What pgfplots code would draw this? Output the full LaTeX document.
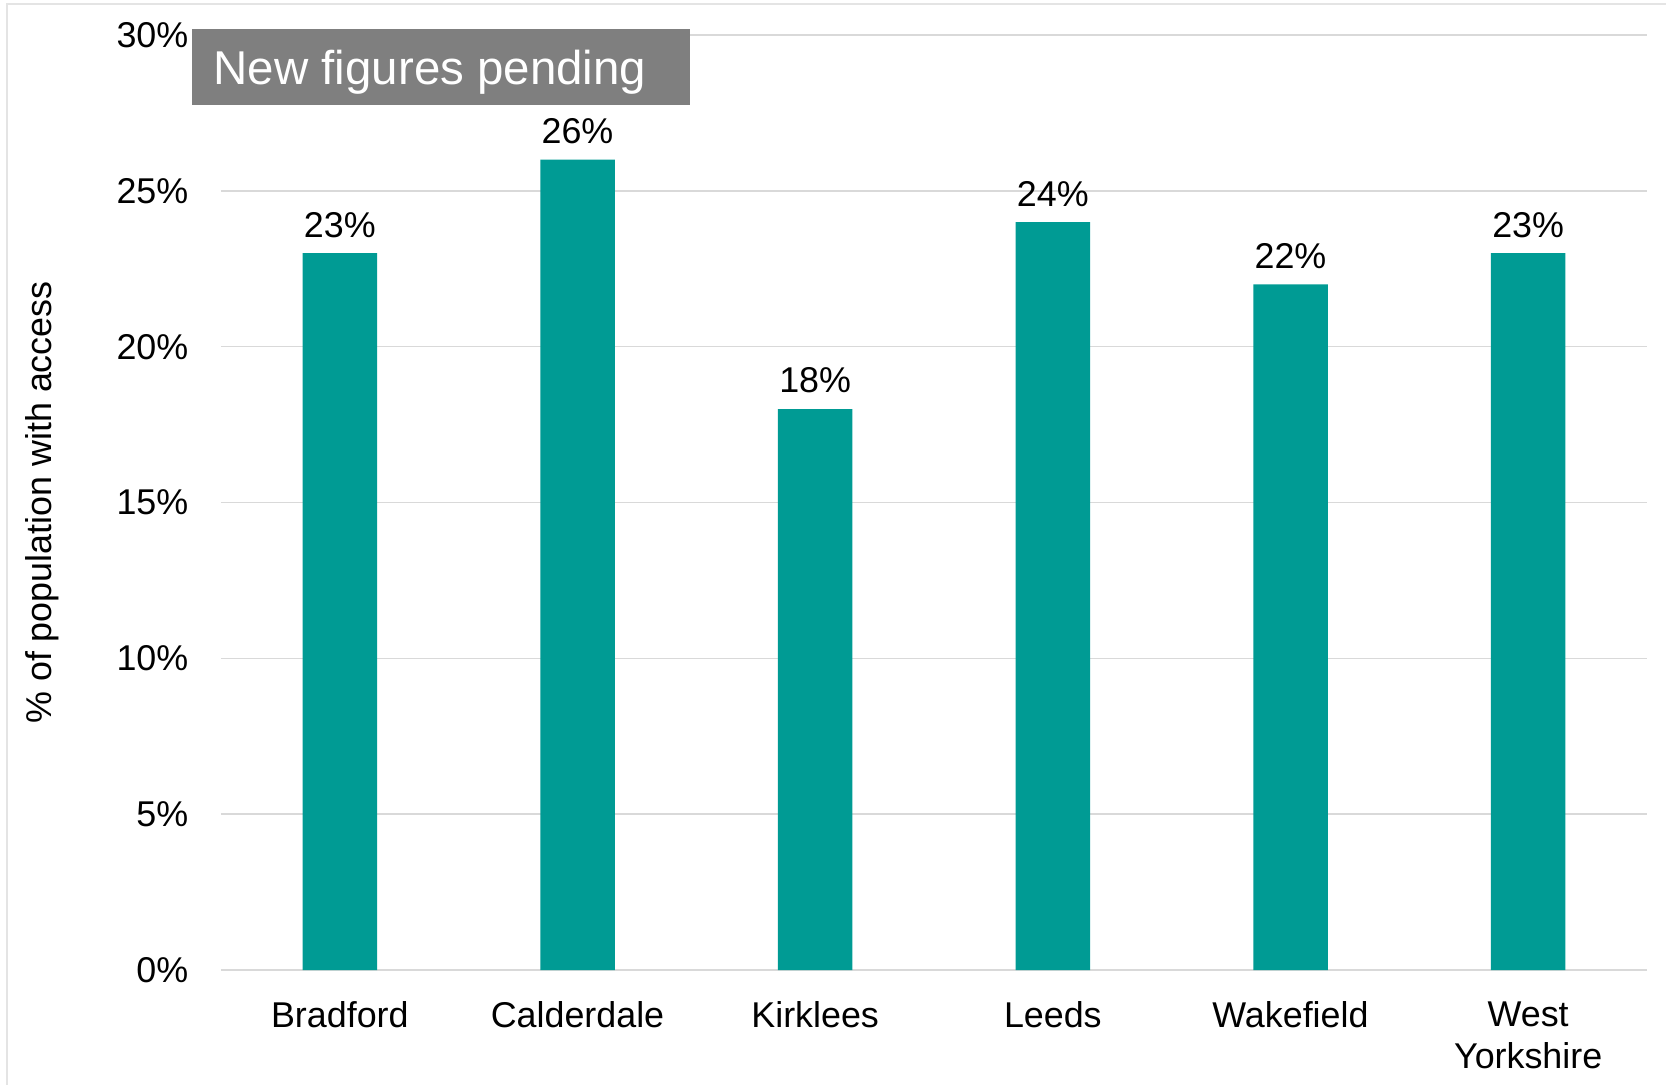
\documentclass[border=0pt]{standalone}
\usepackage{pgfplots}
\pgfplotsset{compat=1.18}
\usepackage{fontspec}
\setmainfont{Liberation Sans}
\definecolor{barteal}{RGB}{0,155,148}
\definecolor{gridgray}{RGB}{217,217,217}
\definecolor{boxgray}{RGB}{127,127,127}
\begin{document}
\begin{tikzpicture}[font=\fontsize{10.2}{12}\selectfont]
  \useasboundingbox (0,0) rectangle (16.66,10.85);
  \draw[gridgray!70, line width=0.5pt] (0.07,0) -- (0.07,10.81) -- (16.66,10.81);
  \begin{axis}[
      at={(2.21cm,1.15cm)}, anchor=south west,
      scale only axis,
      width=14.26cm, height=9.35cm,
      xmin=-0.5, xmax=5.5,
      ymin=0, ymax=30,
      ytick={0,5,...,30},
      xtick=data,
      xticklabels={Bradford, Calderdale, Kirklees, Leeds, Wakefield, West\\Yorkshire},
      /pgf/number format/assume math mode=true,
      yticklabel={\pgfmathprintnumber{\tick}\%},
      axis line style={draw=none},
      major tick length=0pt,
      ymajorgrids,
      grid style={gridgray, line width=0.45pt},
      yticklabel style={anchor=east, inner sep=0pt, xshift=-0.32cm},
      xticklabel style={anchor=north, inner sep=0pt, yshift=-0.31cm, align=center},
      ylabel={\% of population with access},
      ylabel style={at={(axis description cs:-0.1255,0.5)}, anchor=center},
      clip=false,
    ]
    \addplot[ybar, bar width=0.745cm, fill=barteal, draw=none,
      nodes near coords={\pgfmathprintnumber{\pgfplotspointmeta}\%},
      nodes near coords style={anchor=south, inner sep=0pt, yshift=0.15cm, text=black}]
      coordinates {(0,23) (1,26) (2,18) (3,24) (4,22) (5,23)};
  \end{axis}
  \fill[boxgray] (1.92,9.80) rectangle (6.90,10.56);
  \node[anchor=west, inner sep=0pt, text=white, font=\fontsize{13.5}{16}\selectfont] at (2.13,10.13) {New figures pending};
\end{tikzpicture}
\end{document}
